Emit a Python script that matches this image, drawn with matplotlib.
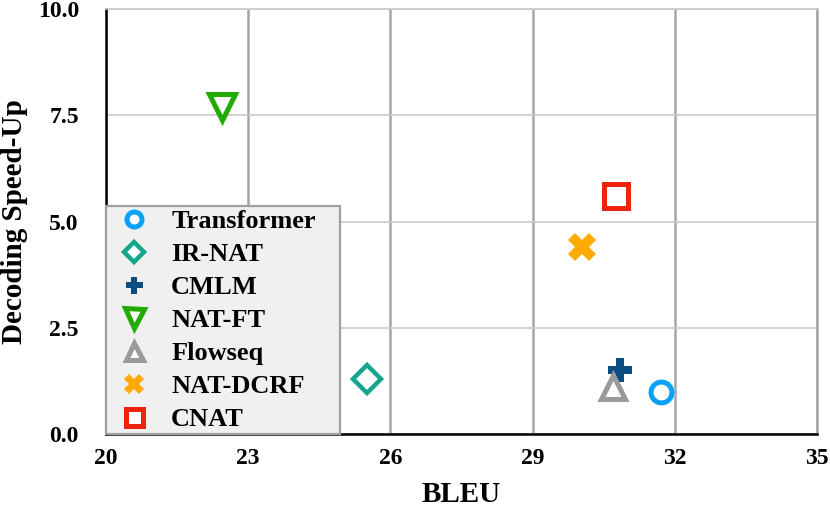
import matplotlib
matplotlib.use("Agg")
import matplotlib.pyplot as plt

# datos
modelos = ["Transformer", "IR-NAT", "CMLM", "NAT-FT", "Flowseq", "NAT-DCRF", "CNAT"]
bleu = [31.7, 25.5, 30.85, 22.45, 30.7, 30.05, 30.75]
speedup = [1.0, 1.3, 1.5, 7.7, 1.1, 4.4, 5.6]

colores = ["#0aa2f5", "#14a58a", "#0b4d80", "#22aa00", "#9a9a9a", "#ffaa00", "#ee2211"]
marcadores = ["o", "D", "P", "v", "^", "X", "s"]
tamanos = [15, 14, 17, 19, 17, 20, 17]
bordes = [3.6, 3.2, 0, 3.6, 3.6, 0, 3.6]
abiertos = [True, True, False, True, True, False, True]

x_ticks = [20, 23, 26, 29, 32, 35]
y_ticks = [0.0, 2.5, 5.0, 7.5, 10.0]

plt.rcParams["font.family"] = ["Liberation Serif", "DejaVu Serif"]
plt.rcParams["font.weight"] = "bold"

fig = plt.figure(figsize=(8.3, 5.12), dpi=100)
ax = fig.add_axes([0.1277, 0.1523, 0.8566, 0.8301])

for i in range(len(modelos)):
    cara = "white" if abiertos[i] else colores[i]
    ax.plot(bleu[i], speedup[i], linestyle="none", marker=marcadores[i],
            markersize=tamanos[i], markerfacecolor=cara, markeredgecolor=colores[i],
            markeredgewidth=bordes[i], color=colores[i], label=modelos[i], zorder=4)

ax.set_xlim(20, 35)
ax.set_ylim(0, 10)
ax.set_xticks(x_ticks)
ax.set_yticks(y_ticks)
ax.set_yticklabels([f"{v:.1f}" for v in y_ticks])
ax.tick_params(length=0, labelsize=17)
ax.tick_params(axis="x", pad=10)
ax.tick_params(axis="y", pad=19.5)

ax.xaxis.grid(True, color="#a6a6a6", linewidth=1.8, zorder=3)
ax.yaxis.grid(True, color="#cacaca", linewidth=1.2, zorder=3)

ax.spines["top"].set_color("#cacaca")
ax.spines["top"].set_linewidth(1.2)
ax.spines["right"].set_color("#a6a6a6")
ax.spines["right"].set_linewidth(1.8)
ax.spines["left"].set_linewidth(1.8)
ax.spines["bottom"].set_linewidth(1.8)

ax.set_xlabel("BLEU", fontsize=21, fontweight="bold", labelpad=9)
ax.set_ylabel("Decoding Speed-Up", fontsize=21, fontweight="bold", labelpad=7)

# leyenda abajo a la izquierda, caja ancha como en el original
leg = ax.legend(loc="lower left", fontsize=19, borderaxespad=0, fancybox=False,
                bbox_to_anchor=(0, 0, 0.329, 0.535), mode="expand",
                framealpha=1, facecolor="#f0f0f0", edgecolor="#a0a0a0",
                markerscale=0.72, labelspacing=0.36, handletextpad=0.45,
                borderpad=0.12, handlelength=1.9)
leg.get_frame().set_linewidth(1.6)
leg.set_zorder(2.8)

fig.savefig("out.png", dpi=100)
